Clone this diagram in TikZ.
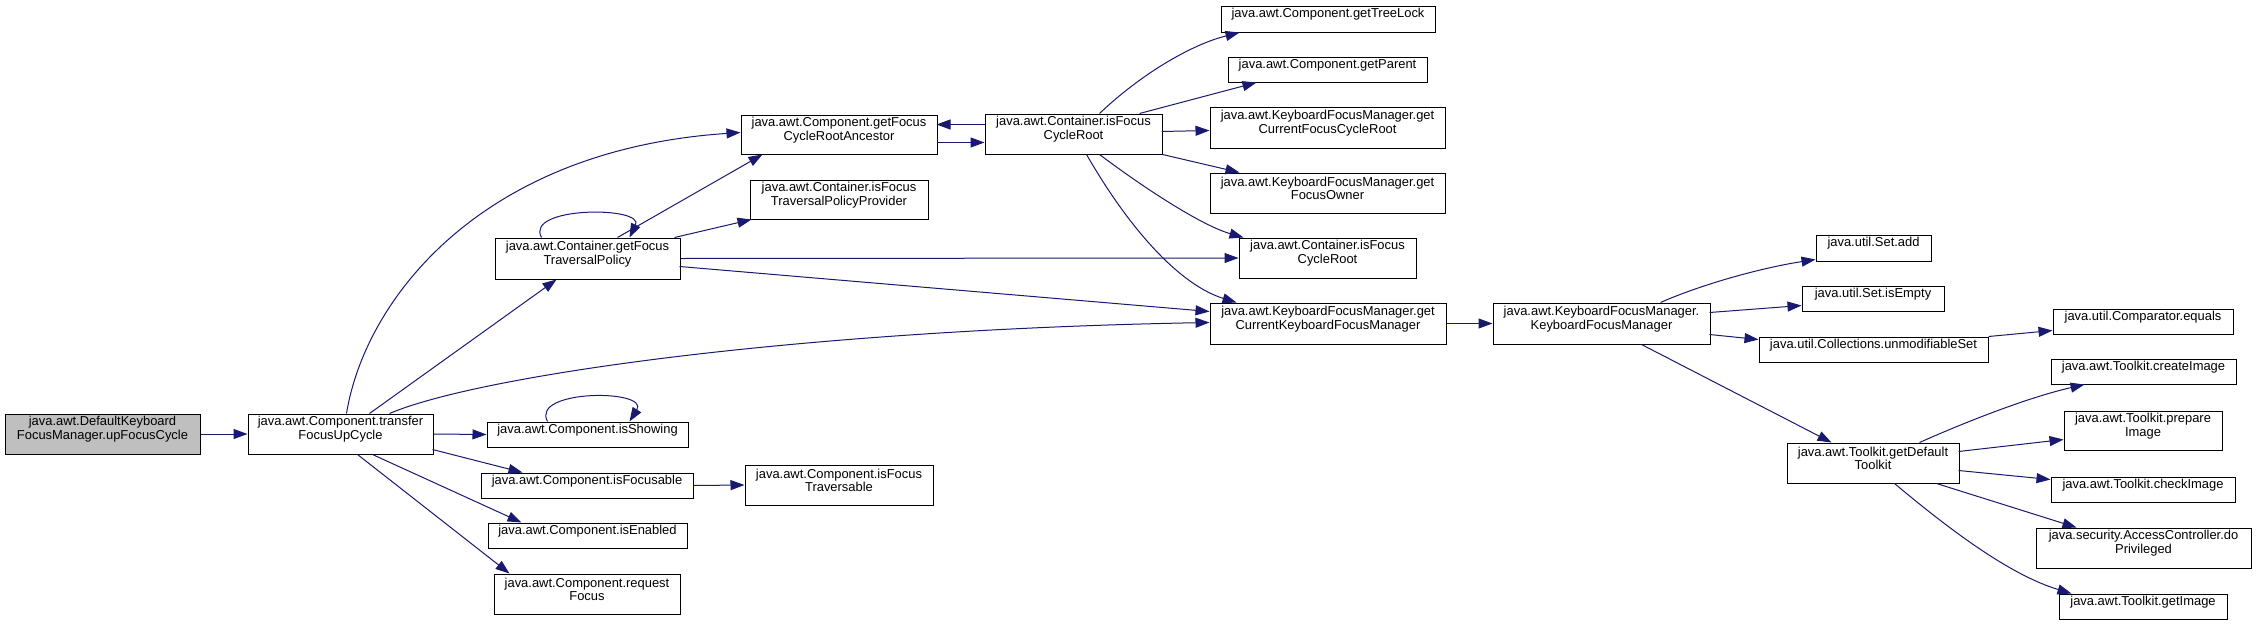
\documentclass[tikz,border=0pt]{standalone}
\usepackage{fontspec}
\setmainfont{Liberation Sans}
\usetikzlibrary{arrows.meta,fit,calc}
\definecolor{edgeblue}{HTML}{191970}
\definecolor{rootgray}{HTML}{BFBFBF}
\begin{document}
\begin{tikzpicture}[x=0.75pt,y=-0.75pt,
  box/.style={draw=black,line width=0.75pt,fill=white,inner sep=0pt,align=center,
    font=\fontsize{9.7}{10.4}\selectfont},
  rootbox/.style={box,fill=rootgray},
  e/.style={draw=edgeblue,line width=0.75pt,-{Triangle[length=10.5pt,width=7.5pt]}}]
\useasboundingbox[fill=white] (0,0) rectangle (2256,625);
% nodes
\node[rootbox,fit={(5,414) (200,454)}] (upf) {java.awt.DefaultKeyboard\\FocusManager.upFocusCycle};
\node[box,fit={(248,414) (433,454)}] (tfu) {java.awt.Component.transfer\\FocusUpCycle};
\node[box,fit={(741,115) (937,154)}] (gfcra) {java.awt.Component.getFocus\\CycleRootAncestor};
\node[box,fit={(750,180) (928,219)}] (iftpp) {java.awt.Container.isFocus\\TraversalPolicyProvider};
\node[box,fit={(495,238) (680,279)}] (gftp) {java.awt.Container.getFocus\\TraversalPolicy};
\node[box,fit={(985,114) (1162,154)}] (ifcr) {java.awt.Container.isFocus\\CycleRoot};
\node[box,fit={(1221,6) (1435,32)}] (gtl) {java.awt.Component.getTreeLock};
\node[box,fit={(1228,57) (1427,82)}] (gp) {java.awt.Component.getParent};
\node[box,fit={(1210,107) (1445,148)}] (gcfcr) {java.awt.KeyboardFocusManager.get\\CurrentFocusCycleRoot};
\node[box,fit={(1210,173) (1445,213)}] (gfo) {java.awt.KeyboardFocusManager.get\\FocusOwner};
\node[box,fit={(1239,238) (1416,278)}] (ifcrb) {java.awt.Container.isFocus\\CycleRoot};
\node[box,fit={(1210,303) (1446,344)}] (gckfm) {java.awt.KeyboardFocusManager.get\\CurrentKeyboardFocusManager};
\node[box,fit={(1493,303) (1710,344)}] (kfm) {java.awt.KeyboardFocusManager.\\KeyboardFocusManager};
\node[box,fit={(1816,235) (1931,261)}] (sadd) {java.util.Set.add};
\node[box,fit={(1802,286) (1944,311)}] (sempty) {java.util.Set.isEmpty};
\node[box,fit={(1759,337) (1988,362)}] (unmod) {java.util.Collections.unmodifiableSet};
\node[box,fit={(2053,309) (2233,334)}] (cmpeq) {java.util.Comparator.equals};
\node[box,fit={(1787,443) (1959,483)}] (gdt) {java.awt.Toolkit.getDefault\\Toolkit};
\node[box,fit={(2051,359) (2236,384)}] (ci) {java.awt.Toolkit.createImage};
\node[box,fit={(2064,411) (2222,450)}] (pi) {java.awt.Toolkit.prepare\\Image};
\node[box,fit={(2051,477) (2235,502)}] (chk) {java.awt.Toolkit.checkImage};
\node[box,fit={(2036,528) (2251,568)}] (dp) {java.security.AccessController.do\\Privileged};
\node[box,fit={(2059,594) (2227,619)}] (gi) {java.awt.Toolkit.getImage};
\node[box,fit={(487,422) (688,447)}] (show) {java.awt.Component.isShowing};
\node[box,fit={(481,473) (693,498)}] (focusable) {java.awt.Component.isFocusable};
\node[box,fit={(745,465) (933,505)}] (ift) {java.awt.Component.isFocus\\Traversable};
\node[box,fit={(488,523) (687,548)}] (enabled) {java.awt.Component.isEnabled};
\node[box,fit={(494,574) (680,614)}] (req) {java.awt.Component.request\\Focus};
% edges
\draw[e] (upf) -- (tfu);
\draw[e] ($(tfu.north west)+(99,0)$) .. controls (365,300) and (480,150) .. ($(gfcra.north west)+(0,18)$);
\draw[e] ($(tfu.north west)+(122,0)$) -- ($(gftp.south west)+(62,0)$);
\draw[e] ($(tfu.north west)+(142,0)$) .. controls (480,375) and (800,330) .. ($(gckfm.north west)+(0,20)$);
\draw[e] (tfu.east) -- (show.west);
\draw[e] ($(tfu.north west)+(185,36)$) -- ($(focusable.north west)+(42,0)$);
\draw[e] ($(tfu.south west)+(125,0)$) -- ($(enabled.north west)+(34,0)$);
\draw[e] ($(tfu.south west)+(110,0)$) -- ($(req.north west)+(16,0)$);
\draw[e] ($(show.north west)+(61,0)$) .. controls (530,389) and (650,389) .. ($(show.north west)+(143,0)$);
\draw[e] ($(gftp.north west)+(47,0)$) .. controls (524,206) and (645,206) .. ($(gftp.north west)+(135,0)$);
\draw[e] ($(gftp.north west)+(123,0)$) -- ($(gfcra.south west)+(22,0)$);
\draw[e] ($(gftp.north west)+(180,0)$) -- ($(iftpp.south west)+(2,0)$);
\draw[e] (gftp.east) -- (ifcrb.west);
\draw[e] ($(gftp.north west)+(185,29)$) -- ($(gckfm.north west)+(0,9)$);
\draw[e] ($(gfcra.north west)+(196,28)$) -- ($(ifcr.north west)+(0,29)$);
\draw[e] ($(ifcr.north west)+(0,11)$) -- ($(gfcra.north west)+(196,10)$);
\draw[e] ($(ifcr.north west)+(115,0)$) .. controls (1140,75) and (1190,45) .. ($(gtl.south west)+(19,0)$);
\draw[e] ($(ifcr.north west)+(155,0)$) -- ($(gp.south west)+(29,0)$);
\draw[e] ($(ifcr.north west)+(177,18)$) -- ($(gcfcr.north west)+(0,24)$);
\draw[e] (ifcr.south east) -- ($(gfo.north west)+(30,0)$);
\draw[e] ($(ifcr.south west)+(115,0)$) .. controls (1140,185) and (1200,225) .. ($(ifcrb.north west)+(5,0)$);
\draw[e] ($(ifcr.south west)+(102,0)$) .. controls (1130,230) and (1180,285) .. ($(gckfm.north west)+(27,0)$);
\draw[e] (gckfm) -- (kfm);
\draw[e] ($(kfm.north west)+(168,0)$) .. controls (1700,285) and (1760,268) .. ($(sadd.south west)+(0,-2)$);
\draw[e] ($(kfm.north west)+(217,10)$) -- ($(sempty.north west)+(0,20)$);
\draw[e] ($(kfm.north west)+(217,32)$) -- ($(unmod.north west)+(0,3)$);
\draw[e] ($(kfm.south west)+(149,0)$) -- ($(gdt.north west)+(45,0)$);
\draw[e] (unmod.north east) -- ($(cmpeq.north west)+(0,22)$);
\draw[e] ($(gdt.north west)+(133,0)$) .. controls (1970,420) and (2030,397) .. ($(ci.south west)+(34,0)$);
\draw[e] ($(gdt.north west)+(172,9)$) -- ($(pi.north west)+(0,29)$);
\draw[e] ($(gdt.north west)+(172,28)$) -- ($(chk.north west)+(0,3)$);
\draw[e] ($(gdt.south west)+(150,0)$) -- ($(dp.north west)+(41,0)$);
\draw[e] ($(gdt.south west)+(108,0)$) .. controls (1950,530) and (2010,575) .. ($(gi.north west)+(13,0)$);
\draw[e] (focusable.east) -- (ift.west);
\end{tikzpicture}
\end{document}
